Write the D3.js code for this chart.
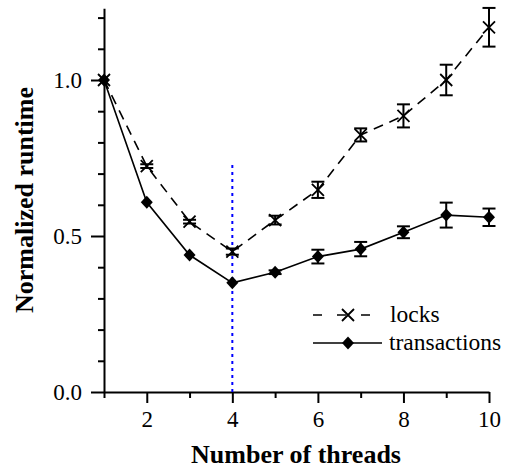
<!DOCTYPE html>
<html>
<head>
<meta charset="utf-8">
<script src="https://cdn.jsdelivr.net/npm/d3@7"></script>
<style>
  body { margin: 0; background: #fff; }
  svg text { font-family: "Liberation Serif", "Times New Roman", serif; fill: #000; }
</style>
</head>
<body>
<div id="chart"></div>
<script>
const threads = [1, 2, 3, 4, 5, 6, 7, 8, 9, 10];
const locks = [1.0, 0.724, 0.546, 0.45, 0.551, 0.648, 0.824, 0.885, 1.0, 1.169];
const locksErr = [0, 0.006, 0.006, 0.01, 0.014, 0.026, 0.021, 0.037, 0.049, 0.062];
const transactions = [1.0, 0.608, 0.439, 0.350, 0.384, 0.434, 0.458, 0.512, 0.567, 0.560];
const transErr = [0, 0, 0, 0, 0.006, 0.022, 0.023, 0.019, 0.04, 0.028];
const xMajor = [2, 4, 6, 8, 10];
const xMinor = [1, 3, 5, 7, 9];
const yMajor = [0, 0.5, 1.0];
const yMinor = [0.1, 0.2, 0.3, 0.4, 0.6, 0.7, 0.8, 0.9, 1.1, 1.2];
const markerX = 4;
const markerTop = 0.735;

const width = 509, height = 468;
const x = d3.scaleLinear().domain([1, 10]).range([104, 489]);
const y = d3.scaleLinear().domain([0, 1.23]).range([392, 392 - 1.23 * 312]);

const svg = d3.select('#chart').append('svg')
  .attr('width', width).attr('height', height);

// axes
const axisStyle = g => {
  g.selectAll('path, line').attr('stroke', '#000').attr('stroke-width', 2);
  g.selectAll('text').attr('font-size', '23px').attr('font-family', '"Liberation Serif", serif');
};

svg.append('g').attr('transform', 'translate(104,0)')
  .call(d3.axisLeft(y).tickValues(yMinor).tickSize(6).tickSizeOuter(0).tickFormat(''))
  .call(axisStyle);
svg.append('g').attr('transform', 'translate(104,0)')
  .call(d3.axisLeft(y).tickValues(yMajor).tickSize(13).tickSizeOuter(0).tickPadding(9).tickFormat(d3.format('.1f')))
  .call(axisStyle)
  .call(g => g.select('.domain').remove());

svg.append('g').attr('transform', 'translate(0,392)')
  .call(d3.axisBottom(x).tickValues(xMinor).tickSize(6).tickSizeOuter(0).tickFormat(''))
  .call(axisStyle);
svg.append('g').attr('transform', 'translate(0,392)')
  .call(d3.axisBottom(x).tickValues(xMajor).tickSize(11).tickSizeOuter(0).tickPadding(8))
  .call(axisStyle)
  .call(g => g.select('.domain').remove());

svg.selectAll('.domain').attr('fill', 'none');

// axis titles
svg.append('text')
  .attr('x', 296).attr('y', 463)
  .attr('text-anchor', 'middle')
  .attr('font-size', '26px').attr('font-weight', 'bold')
  .text('Number of threads');
svg.append('text')
  .attr('transform', 'translate(33,200) rotate(-90)')
  .attr('text-anchor', 'middle')
  .attr('font-size', '26px').attr('font-weight', 'bold')
  .text('Normalized runtime');

// blue dotted line at 4 threads
svg.append('line')
  .attr('x1', x(markerX)).attr('x2', x(markerX))
  .attr('y1', y(0)).attr('y2', y(markerTop))
  .attr('stroke', '#0000ff').attr('stroke-width', 2)
  .attr('stroke-dasharray', '3,4');

const line = d3.line().x(d => x(d[0])).y(d => y(d[1]));
const locksData = threads.map((t, i) => [t, locks[i], locksErr[i]]);
const transData = threads.map((t, i) => [t, transactions[i], transErr[i]]);

svg.append('path').datum(locksData)
  .attr('d', line).attr('fill', 'none')
  .attr('stroke', '#000').attr('stroke-width', 1.6)
  .attr('stroke-dasharray', '10,7');
svg.append('path').datum(transData)
  .attr('d', line).attr('fill', 'none')
  .attr('stroke', '#000').attr('stroke-width', 1.6);

// error bars
function errorBars(data) {
  const g = svg.append('g').attr('stroke', '#000').attr('stroke-width', 2).attr('fill', 'none');
  const d = data.filter(p => p[2] > 0);
  g.selectAll('.v').data(d).join('line')
    .attr('x1', p => x(p[0])).attr('x2', p => x(p[0]))
    .attr('y1', p => y(p[1] - p[2])).attr('y2', p => y(p[1] + p[2]));
  g.selectAll('.t').data(d).join('line')
    .attr('x1', p => x(p[0]) - 6.5).attr('x2', p => x(p[0]) + 6.5)
    .attr('y1', p => y(p[1] + p[2])).attr('y2', p => y(p[1] + p[2]));
  g.selectAll('.b').data(d).join('line')
    .attr('x1', p => x(p[0]) - 6.5).attr('x2', p => x(p[0]) + 6.5)
    .attr('y1', p => y(p[1] - p[2])).attr('y2', p => y(p[1] - p[2]));
}
errorBars(locksData);
errorBars(transData);

// markers
const crossPath = 'M-6,-6L6,6M-6,6L6,-6';
const diamondPath = 'M0,-6.5L6,0L0,6.5L-6,0Z';

svg.append('g').selectAll('path').data(locksData).join('path')
  .attr('transform', p => `translate(${x(p[0])},${y(p[1])})`)
  .attr('d', crossPath).attr('stroke', '#000').attr('stroke-width', 1.8).attr('fill', 'none');
svg.append('g').selectAll('path').data(transData).join('path')
  .attr('transform', p => `translate(${x(p[0])},${y(p[1])})`)
  .attr('d', diamondPath).attr('fill', '#000');

// legend
const legend = svg.append('g');
legend.append('line')
  .attr('x1', 313).attr('x2', 372).attr('y1', 315).attr('y2', 315)
  .attr('stroke', '#000').attr('stroke-width', 1.6).attr('stroke-dasharray', '9,15');
legend.append('path').attr('transform', 'translate(348,315)')
  .attr('d', crossPath).attr('stroke', '#000').attr('stroke-width', 1.8).attr('fill', 'none');
legend.append('text').attr('x', 390).attr('y', 322)
  .attr('font-size', '23.5px').text('locks');
legend.append('line')
  .attr('x1', 313).attr('x2', 382).attr('y1', 343).attr('y2', 343)
  .attr('stroke', '#000').attr('stroke-width', 1.6);
legend.append('path').attr('transform', 'translate(348,343)')
  .attr('d', diamondPath).attr('fill', '#000');
legend.append('text').attr('x', 389).attr('y', 350)
  .attr('font-size', '23.5px').text('transactions');
</script>
</body>
</html>
